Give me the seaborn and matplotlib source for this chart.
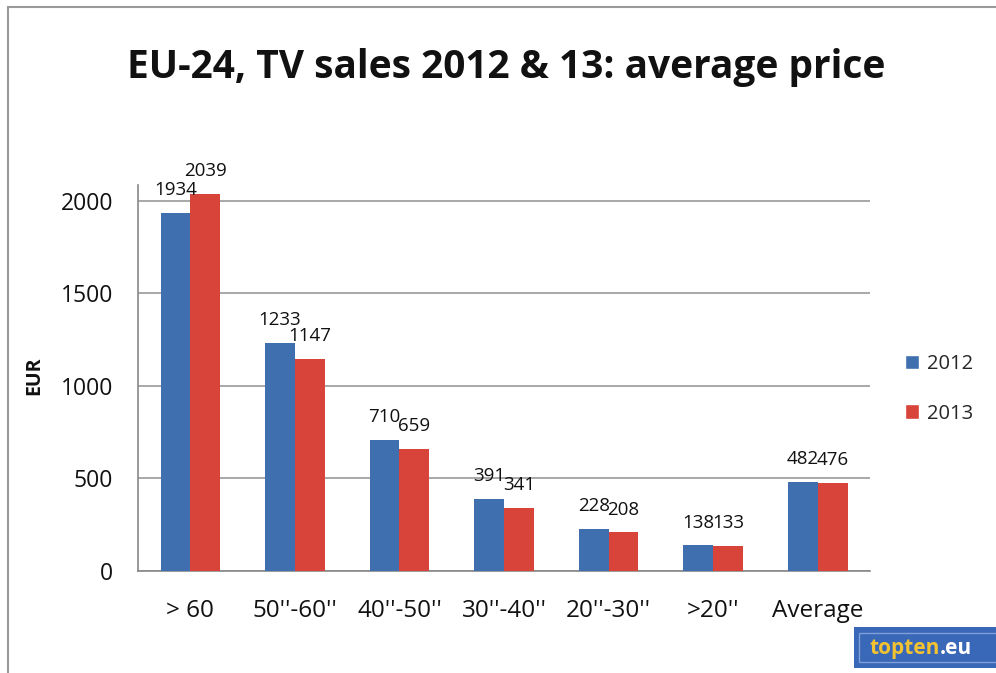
import pandas as pd
import matplotlib
matplotlib.use("Agg")
import matplotlib.pyplot as plt
import seaborn as sns
from matplotlib.patches import Patch, Rectangle
from matplotlib.transforms import offset_copy

# chart data
categories = ['> 60', '50"-60"', '40"-50"', '30"-40"', '20"-30"', '>20"', 'Average']
prices_2012 = [1934, 1233, 710, 391, 228, 138, 482]
prices_2013 = [2039, 1147, 659, 341, 208, 133, 476]
years = ['2012', '2013']

df = pd.DataFrame({
    'category': categories * 2,
    'year': [years[0]] * len(categories) + [years[1]] * len(categories),
    'price': prices_2012 + prices_2013,
})

# tick labels use straight double quote pairs like in the original
tick_labels = [c.replace('"', "''") for c in categories]

sns.set_style('white')
plt.rcParams['font.family'] = ['Open Sans', 'DejaVu Sans']

colors = {'2012': '#3F6FAE', '2013': '#D8433A'}

fig = plt.figure(figsize=(9.96, 6.73), dpi=100)
ax = fig.add_axes([0.1386, 0.1516, 0.7349, 0.5735])

sns.barplot(data=df, x='category', y='price', hue='year', palette=colors,
            width=0.57, saturation=1, ax=ax, legend=False, zorder=3,
            linewidth=0, edgecolor='none')

for cont in ax.containers:
    ax.bar_label(cont, fmt='%d', padding=10, fontsize=13.5, color='#111111')

ax.set_ylim(0, 2086)
ax.set_xlim(-0.5, len(categories) - 0.5)
ax.set_yticks([0, 500, 1000, 1500, 2000])
ax.yaxis.grid(True, color='#9a9a9a', linewidth=1.2, zorder=0)
ax.set_xticks(range(len(categories)))
ax.set_xticklabels(tick_labels)
ax.set_xticks([i - 0.5 for i in range(len(categories) + 1)], minor=True)
ax.tick_params(axis='x', which='major', length=0, pad=20, labelsize=17.5, labelcolor='#111111')
ax.tick_params(axis='x', which='minor', length=8, color='#888888', width=1.2, direction='out')
ax.tick_params(axis='y', length=7, color='#888888', width=1.2, direction='out', pad=11,
               labelsize=16.5, labelcolor='#111111')
ax.set_xlabel('')
ax.set_ylabel('EUR', fontsize=14, fontweight='bold', color='#111111')
ax.yaxis.set_label_coords(-0.128, 0.505)

for side in ['top', 'right']:
    ax.spines[side].set_visible(False)
for side in ['left', 'bottom']:
    ax.spines[side].set_color('#888888')
    ax.spines[side].set_linewidth(1.2)

handles = [Patch(facecolor=colors[y], label=y) for y in years]
fig.legend(handles=handles, loc='center left', bbox_to_anchor=(0.89, 0.422),
           frameon=False, fontsize=14.5, handlelength=0.7, handleheight=0.7,
           handletextpad=0.4, labelspacing=1.45)

fig.suptitle('EU-24, TV sales 2012 & 13: average price', x=0.508, y=0.928,
             fontsize=28, fontweight='bold', color='#111111')

# chart border
fig.patches.append(Rectangle((0.008, -0.05), 1.2, 1.04, transform=fig.transFigure,
                             fill=False, edgecolor='#9a9a9a', linewidth=1.5))

# topten logo box
fig.patches.append(Rectangle((0.857, 0.008), 0.2, 0.06, transform=fig.transFigure,
                             facecolor='#3A68B8', edgecolor='none'))
fig.patches.append(Rectangle((0.862, 0.016), 0.2, 0.044, transform=fig.transFigure,
                             fill=False, edgecolor='#7f9fd6', linewidth=1))
logo = fig.text(0.873, 0.036, 'topten', color='#F2C230', fontsize=15, fontweight='bold',
                va='center', ha='left')
fig.canvas.draw()
w = logo.get_window_extent().width
fig.text(0.873, 0.036, '.eu', color='white', fontsize=15, fontweight='bold',
         va='center', ha='left',
         transform=offset_copy(fig.transFigure, fig=fig, x=w, y=0, units='dots'))

fig.savefig('out.png', dpi=100)
